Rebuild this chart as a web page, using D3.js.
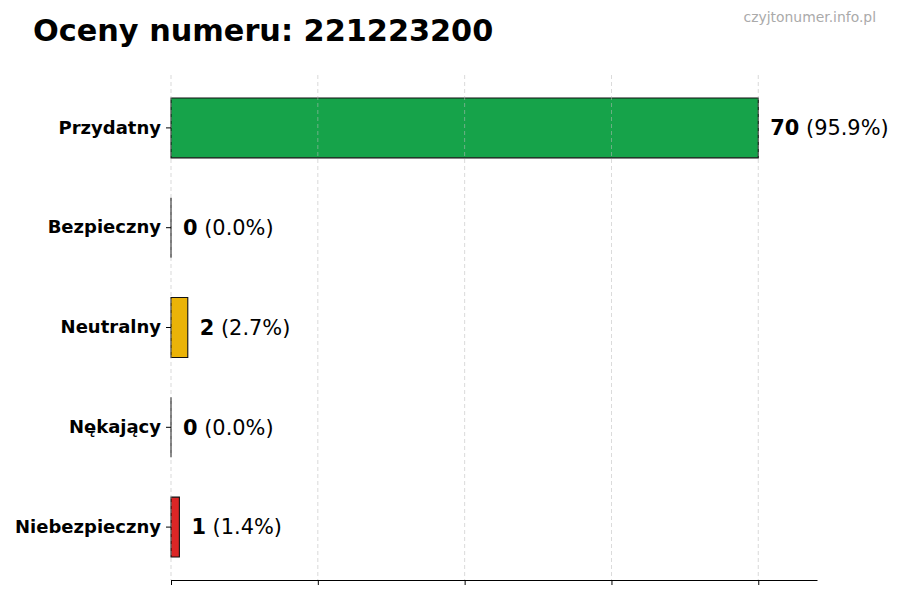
<!DOCTYPE html>
<html>
<head>
<meta charset="utf-8">
<script src="https://cdn.jsdelivr.net/npm/d3@7"></script>
<style>
	body { margin: 0; background: #fff; }
	svg { display: block; font-family: "DejaVu Sans", sans-serif; }
</style>
</head>
<body>
<div id="container"></div>
<script>
	const width = 900, height = 600;

	// dane z wykresu
	const categories = ["Przydatny", "Bezpieczny", "Neutralny", "Nękający", "Niebezpieczny"];
	const counts = [70, 0, 2, 0, 1];
	const percents = ["95.9%", "0.0%", "2.7%", "0.0%", "1.4%"];
	const barColors = ["#16a34a", "#2563eb", "#eab308", "#f97316", "#dc2626"];
	const xTicks = [0, 17.5, 35, 52.5, 70];

	const plotLeft = 171, plotRight = 817, plotTop = 75, plotBottom = 580;

	const x = d3.scaleLinear().domain([0, 77]).range([plotLeft, plotRight]);
	const y = d3.scaleBand().domain(categories).range([plotTop + 3, plotBottom - 3])
		.paddingInner(0.4).paddingOuter(0.2);

	const svg = d3.select("#container").append("svg").attr("width", width).attr("height", height);

	svg.append("text").attr("x", 33).attr("y", 41)
		.attr("font-size", 30.3).attr("font-weight", "bold").attr("fill", "#000")
		.text("Oceny numeru: 221223200");

	svg.append("text").attr("x", 876).attr("y", 22).attr("text-anchor", "end")
		.attr("font-size", 13.9).attr("fill", "#aaa")
		.text("czyjtonumer.info.pl");

	/* bars */
	svg.append("g").selectAll("path")
		.data(categories).enter()
		.append("path")
		.attr("d", function(d, i) {
			const x0 = x(0), x1 = x(counts[i]), y0 = y(d), h = y.bandwidth();
			return "M" + x0 + "," + y0 + "H" + x1 + "V" + (y0 + h) + "H" + x0 + "Z";
		})
		.attr("fill", (d, i) => barColors[i])
		.attr("stroke", "#111")
		.attr("stroke-width", 1.1);

	/* grid, over the bars like in the original */
	svg.append("g").selectAll("line")
		.data(xTicks).enter()
		.append("line")
		.attr("x1", d => x(d)).attr("x2", d => x(d))
		.attr("y1", plotTop).attr("y2", plotBottom)
		.attr("stroke", "#bbb").attr("stroke-width", 0.9)
		.attr("stroke-dasharray", "4,3").attr("opacity", 0.6);

	/* axes */
	const yAxis = d3.axisLeft(y).tickSize(5).tickPadding(5);
	const gy = svg.append("g").attr("transform", "translate(" + plotLeft + ",0)").call(yAxis);
	gy.select(".domain").remove();
	gy.selectAll("text").attr("font-size", 18).attr("font-weight", "bold").attr("fill", "#000")
		.attr("font-family", "DejaVu Sans");
	gy.selectAll("line").attr("stroke", "#000");

	const xAxis = d3.axisBottom(x).tickValues(xTicks).tickFormat("").tickSize(5).tickSizeOuter(0);
	const gx = svg.append("g").attr("transform", "translate(0," + plotBottom + ")").call(xAxis);
	gx.select(".domain").attr("stroke", "#000").attr("stroke-width", 1.2);
	gx.selectAll("line").attr("stroke", "#000");

	/* value labels */
	const lab = svg.append("g").selectAll("text")
		.data(categories).enter()
		.append("text")
		.attr("x", (d, i) => x(counts[i]) + 12)
		.attr("y", d => y(d) + y.bandwidth() / 2)
		.attr("dy", "0.35em")
		.attr("font-size", 20.9)
		.attr("fill", "#000");
	lab.append("tspan").attr("font-weight", "bold").text((d, i) => counts[i]);
	lab.append("tspan").text((d, i) => " (" + percents[i] + ")");
</script>
</body>
</html>
